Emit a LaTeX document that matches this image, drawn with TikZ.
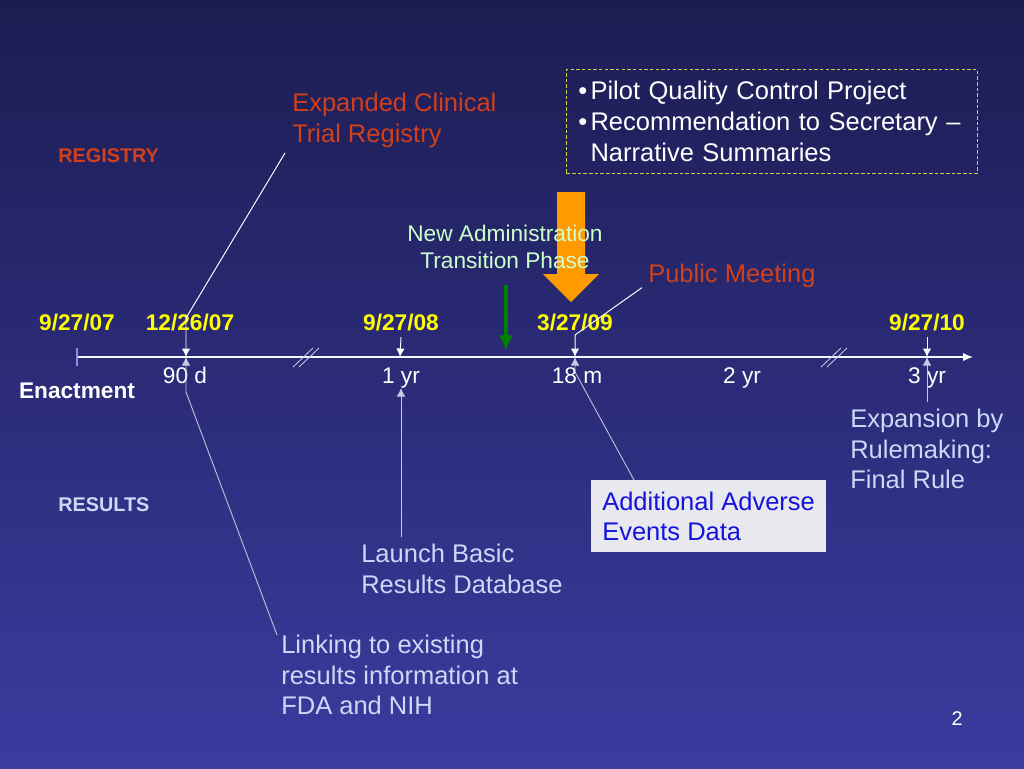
\documentclass[tikz,border=0pt]{standalone}
\usepackage{fontspec}
\setmainfont{Liberation Sans}
\usetikzlibrary{arrows.meta,calc}

\definecolor{bgtop}{HTML}{1C1C52}
\definecolor{bgbot}{HTML}{3B3BA0}
\definecolor{regred}{HTML}{D0401A}
\definecolor{resblue}{HTML}{CCD8F5}
\definecolor{datey}{HTML}{FFFF00}
\definecolor{adming}{HTML}{CCFFCC}
\definecolor{boxline}{HTML}{D0D040}
\definecolor{boxgrey}{HTML}{E8E8EE}
\definecolor{boxblue}{HTML}{1414DC}
\definecolor{pointer}{HTML}{C8C8E0}
\definecolor{orangearr}{HTML}{FF9A00}

\newcommand\blt{\makebox[8.5pt][l]{\textbullet}}

\tikzset{
  txt/.style={inner sep=0pt, text=white},
  big/.style={txt, font=\fontsize{18}{21.6}\selectfont, align=left, anchor=north west},
  date/.style={txt, text=datey, font=\fontsize{16}{19.2}\selectfont\bfseries, anchor=base},
  tlab/.style={txt, font=\fontsize{16}{19.2}\selectfont, anchor=base},
  side/.style={txt, font=\fontsize{14}{16.8}\selectfont\bfseries, anchor=base west},
  tick/.style={-{Latex[length=6pt,width=6pt]}, white!90!pointer, line width=0.7pt},
  ptr/.style={-{Latex[length=6pt,width=6pt]}, pointer, line width=0.6pt},
}

\begin{document}
\begin{tikzpicture}[x=0.7058pt,y=-0.7058pt]

  % Slide background
  \useasboundingbox (0,0) rectangle (1024,768);
  \shade[top color=bgtop,bottom color=bgbot] (0,0) rectangle (1024,768);

  % Points on the time axis
  \coordinate (t07) at (77,357);
  \coordinate (t90) at (186,357);
  \coordinate (t08) at (400,357);
  \coordinate (t09) at (575,357);
  \coordinate (t10) at (927,357);
  \coordinate (tend) at (973,357);

  % Draw the time axis
  \draw[white!90!pointer, line width=1.1pt, -{Latex[length=7pt,width=6pt]}] (t07) -- (tend);
  \draw[pointer!70!blue, line width=1pt] (t07) ++(0,-9) -- ++(0,18);
  \foreach \bx in {305,833} {
    \draw[pointer, line width=0.6pt] (\bx-12,367) -- (\bx+8,348);
    \draw[pointer, line width=0.6pt] (\bx-6,367) -- (\bx+14,348);
  }

  % Big orange arrow and green arrow
  \fill[orangearr] (557,192) -- (585,192) -- (585,274) -- (599,274) -- (571,302)
    -- (543,274) -- (557,274) -- cycle;
  \coordinate (gtop) at (506,285);
  \coordinate (gtip) at (506,351);
  \draw[-{Latex[length=11pt,width=10pt]}, green!50!black, line width=2.6pt] (gtop) -- (gtip);

  % Dates above the axis
  \node[date] at (77,330) (d07) {9/27/07};
  \node[date] at (190,330) (d90) {12/26/07};
  \node[date] at (401,330) (d08) {9/27/08};
  \node[date] at (575,330) (d09) {3/27/09};
  \node[date] at (927,330) (d10) {9/27/10};

  % Labels below the axis
  \node[tlab] at (185,383) (l90) {90 d};
  \node[tlab] at (401,383) (l1) {1 yr};
  \node[tlab] at (577,383) (l18) {18 m};
  \node[tlab] at (742,383) (l2) {2 yr};
  \node[tlab] at (927,383) (l3) {3 yr};
  \node[tlab, font=\fontsize{16}{19.2}\selectfont\bfseries] at (77,398) (enact) {Enactment};

  % Side headings
  \node[side, text=regred] at (58,162) (reg) {REGISTRY};
  \node[side, text=resblue] at (58,511) (res) {RESULTS};

  % Registry side
  \node[big, text=regred] at (292,93) (expd) {Expanded Clinical\\Trial Registry};
  \node[big, anchor=base west, text=regred] at (648,282) (pub) {Public Meeting};
  \node[txt, text=adming, font=\fontsize{16}{19.2}\selectfont, align=center, anchor=north]
    at (505,225) (admin) {New Administration\\Transition Phase};
  \node[big, draw=boxline, dash pattern=on 2.5pt off 1.5pt, line width=0.6pt,
        inner xsep=8.5pt, inner ysep=0pt, text width=273pt, minimum height=73.4pt]
    at (566,69) (pilot) {\blt Pilot Quality Control Project\\
      \blt Recommendation to Secretary --\\
      \hspace*{8.5pt}Narrative Summaries};

  % Results side
  \node[big, fill=boxgrey, text=boxblue, minimum width=165.6pt,
        minimum height=50.8pt] at (591,480) (adverse) {Additional Adverse\\Events Data};
  \node[big, text=resblue] at (850,409) (expn) {Expansion by\\Rulemaking:\\Final Rule};
  \node[big, text=resblue] at (361,544) (launch) {Launch Basic\\Results Database};
  \node[big, text=resblue] at (281,635) (link) {Linking to existing\\results information at\\FDA and NIH};

  % Page number
  \node[txt, font=\fontsize{14}{16.8}\selectfont, anchor=base] at (957,725) (pg) {2};

  % Pointers from above
  \draw[tick] ([shift={(-7,5)}]expd.south west) -- ([shift={(0,-39)}]t90) -- (t90);
  \draw[tick] ([shift={(-6,0)}]pub.south west) -- ([shift={(0,-22)}]t09) -- (t09);
  \draw[tick] ([yshift=-5pt]d08.base) -- (t08);
  \draw[tick] ([yshift=-5pt]d10.base) -- (t10);

  % Pointers from below
  \draw[ptr] ([shift={(-4,0)}]link.north west) -- ([shift={(0,35)}]t90) -- (t90);
  \draw[ptr] ($(l1.south |- launch.north)+(0,-7)$) -- (l1.south);
  \draw[ptr] ([shift={(43,0)}]adverse.north west) -- ([shift={(0,15)}]t09) -- (t09);
  \draw[ptr] ($(t10 |- expn.north)+(0,-7)$) -- (t10);

\end{tikzpicture}
\end{document}
